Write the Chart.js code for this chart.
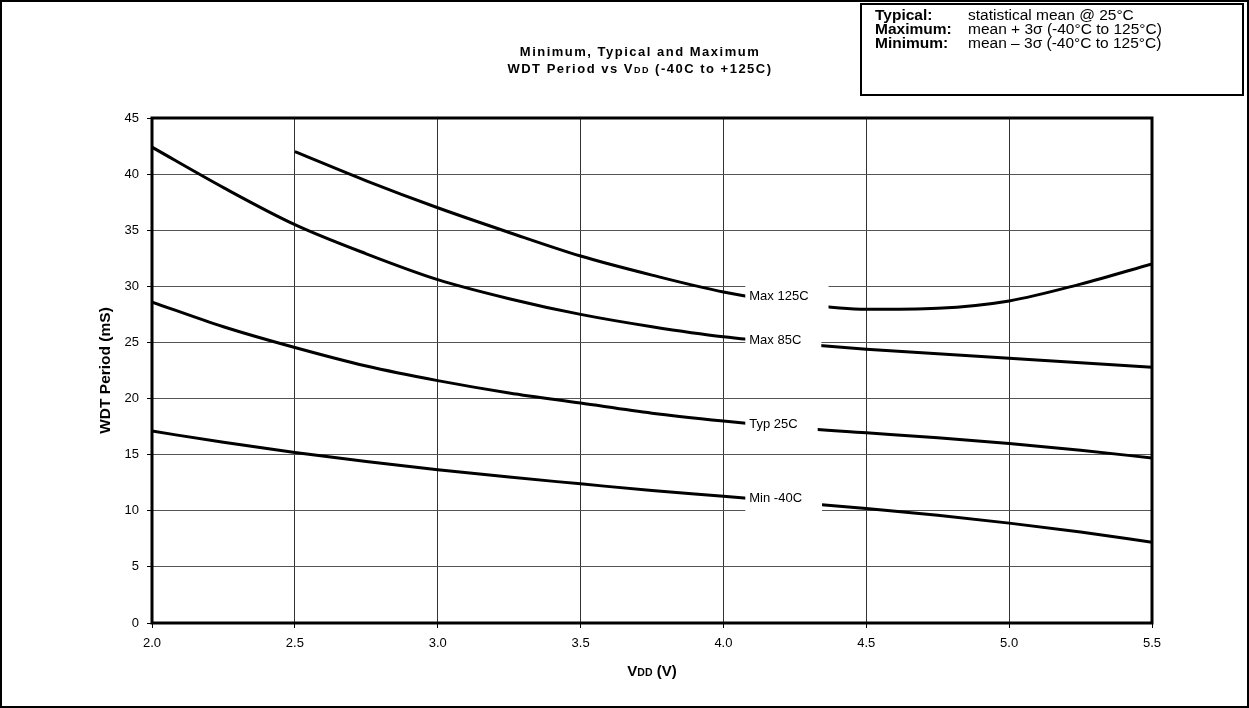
<!DOCTYPE html>
<html>
<head>
<meta charset="utf-8">
<script src="https://cdn.jsdelivr.net/npm/chart.js@4.4.1/dist/chart.umd.min.js"></script>
<style>
  html, body { margin: 0; padding: 0; background: #fff; }
  #wrap { width: 1249px; height: 708px; }
</style>
</head>
<body>
<div id="wrap"><canvas id="wdt" width="1249" height="708"></canvas></div>
<script>
// VDD sample points (V)
const vdd = [2.0, 2.25, 2.5, 2.75, 3.0, 3.25, 3.5, 3.75, 4.0, 4.25, 4.5, 4.75, 5.0, 5.25, 5.5];

// WDT period (ms)
const max125 = [null, null, 42.0, 39.4, 37.0, 34.8, 32.7, 31.0, 29.5, 28.5, 27.95, 28.05, 28.7, 30.2, 32.0];
const max85  = [42.4, 38.8, 35.5, 32.9, 30.6, 28.9, 27.5, 26.4, 25.5, 24.9, 24.4, 24.0, 23.6, 23.2, 22.8];
const typ25  = [28.6, 26.4, 24.55, 22.9, 21.6, 20.5, 19.6, 18.7, 18.0, 17.4, 16.95, 16.5, 16.0, 15.4, 14.7];
const min40  = [17.1, 16.1, 15.2, 14.4, 13.65, 13.0, 12.4, 11.8, 11.3, 10.75, 10.2, 9.6, 8.9, 8.1, 7.2];

// curve labels: text, x where the label starts, y of the curve there
const curveLabels = [
  { text: "Max 125C", x: 4.08, y: 29.2 },
  { text: "Max 85C",  x: 4.08, y: 25.3 },
  { text: "Typ 25C",  x: 4.08, y: 17.8 },
  { text: "Min -40C", x: 4.08, y: 11.15 }
];

const legendRows = [
  ["Typical:", "statistical mean @ 25°C"],
  ["Maximum:", "mean + 3σ (-40°C to 125°C)"],
  ["Minimum:", "mean – 3σ (-40°C to 125°C)"]
];

const FONT = '"Liberation Sans", Arial, sans-serif';

function toPoints(ys) {
  return vdd.map((x, i) => ({ x: x, y: ys[i] })).filter(p => p.y !== null);
}

function line(label, ys) {
  return {
    label: label,
    data: toPoints(ys),
    borderColor: "#000",
    borderWidth: 3,
    pointRadius: 0,
    fill: false,
    cubicInterpolationMode: "monotone"
  };
}

// draws text pieces in a row, [text, size, bold], centred on cx
function drawRuns(ctx, runs, cx, cy, spacing) {
  ctx.letterSpacing = (spacing || 0) + "px";
  let total = 0;
  runs.forEach(r => {
    ctx.font = (r[2] ? "bold " : "") + r[1] + "px " + FONT;
    r.w = ctx.measureText(r[0]).width;
    total += r.w;
  });
  let x = cx - total / 2;
  ctx.textAlign = "left";
  ctx.textBaseline = "alphabetic";
  runs.forEach(r => {
    ctx.font = (r[2] ? "bold " : "") + r[1] + "px " + FONT;
    ctx.fillText(r[0], x, cy);
    x += r.w;
  });
  ctx.letterSpacing = "0px";
}

const decorations = {
  id: "decorations",
  afterDatasetsDraw(chart) {
    const ctx = chart.ctx;
    const xs = chart.scales.x, ys = chart.scales.y;
    const area = chart.chartArea;
    ctx.save();

    // curve labels on white boxes
    ctx.font = "13px " + FONT;
    ctx.textBaseline = "middle";
    ctx.textAlign = "left";
    curveLabels.forEach(l => {
      const px = xs.getPixelForValue(l.x);
      const py = ys.getPixelForValue(l.y);
      const tw = ctx.measureText(l.text).width;
      ctx.fillStyle = "#fff";
      ctx.fillRect(px - 1, py - 14, tw + 24, 28);
      ctx.fillStyle = "#000";
      ctx.fillText(l.text, px + 3, py + 1);
    });

    // plot frame
    ctx.strokeStyle = "#000";
    ctx.lineWidth = 3;
    ctx.strokeRect(area.left, area.top, area.right - area.left, area.bottom - area.top);

    // outer frame
    ctx.lineWidth = 2;
    ctx.strokeRect(1, 1, chart.width - 2, chart.height - 2);

    // legend box
    ctx.strokeRect(861, 4, 382, 91);
    ctx.fillStyle = "#000";
    ctx.textBaseline = "middle";
    legendRows.forEach((row, i) => {
      const y = 16 + i * 14;
      ctx.font = "bold 15.5px " + FONT;
      ctx.fillText(row[0], 875, y);
      ctx.font = "15.5px " + FONT;
      ctx.fillText(row[1], 968, y);
    });

    // title
    drawRuns(ctx, [["Minimum, Typical and Maximum", 13, true]], 640, 56, 1.5);
    drawRuns(ctx, [["WDT Period vs V", 13, true], ["DD", 9, true], [" (-40C to +125C)", 13, true]], 640, 73, 1.5);

    // x axis title
    drawRuns(ctx, [["V", 15, true], ["DD", 10.5, true], [" (V)", 15, true]], (area.left + area.right) / 2, 676);

    // y axis title
    ctx.translate(110, (area.top + area.bottom) / 2);
    ctx.rotate(-Math.PI / 2);
    drawRuns(ctx, [["WDT Period (mS)", 15.5, true]], 0, 0);

    ctx.restore();
  }
};

new Chart(document.getElementById("wdt").getContext("2d"), {
  type: "line",
  data: {
    datasets: [
      line("Max 125C", max125),
      line("Max 85C", max85),
      line("Typ 25C", typ25),
      line("Min -40C", min40)
    ]
  },
  options: {
    responsive: false,
    animation: false,
    layout: { padding: { top: 118, right: 97, left: 0, bottom: 0 } },
    plugins: {
      legend: { display: false },
      tooltip: { enabled: false },
      title: { display: false }
    },
    scales: {
      x: {
        type: "linear",
        min: 2.0,
        max: 5.5,
        afterFit: s => { s.height = 85; },
        ticks: {
          stepSize: 0.5,
          color: "#000",
          padding: 8,
          font: { family: FONT, size: 13 },
          callback: v => Number(v).toFixed(1)
        },
        grid: { color: "#333", lineWidth: 1, tickLength: 5, tickColor: "#000" },
        border: { display: false }
      },
      y: {
        min: 0,
        max: 45,
        afterFit: s => { s.width = 152; },
        ticks: {
          stepSize: 5,
          color: "#000",
          padding: 8,
          font: { family: FONT, size: 13 }
        },
        grid: { color: "#555", lineWidth: 1, tickLength: 5, tickColor: "#000" },
        border: { display: false }
      }
    }
  },
  plugins: [decorations]
});
</script>
</body>
</html>
